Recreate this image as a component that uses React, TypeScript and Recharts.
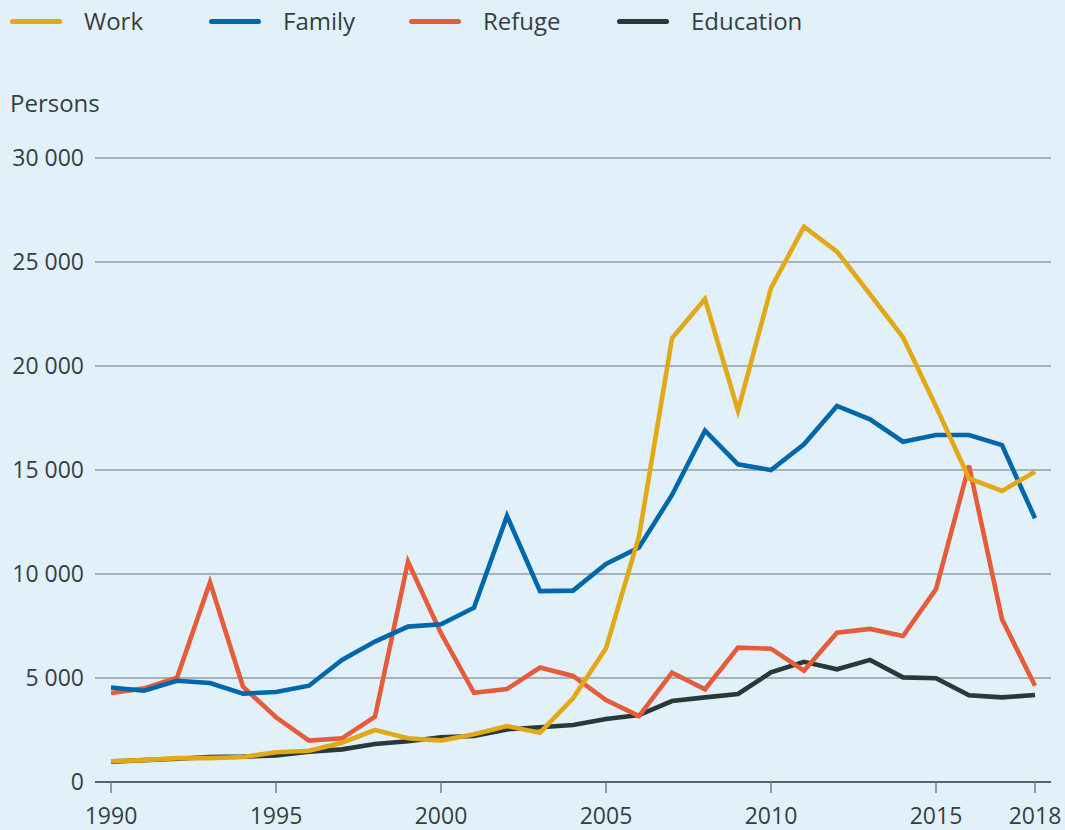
import { LineChart, Line, XAxis, YAxis, CartesianGrid } from "recharts";

const years = [
  1990, 1991, 1992, 1993, 1994, 1995, 1996, 1997, 1998, 1999,
  2000, 2001, 2002, 2003, 2004, 2005, 2006, 2007, 2008, 2009,
  2010, 2011, 2012, 2013, 2014, 2015, 2016, 2017, 2018,
];

const work = [
  1000, 1050, 1150, 1150, 1200, 1430, 1500, 1890, 2500, 2100,
  1990, 2300, 2690, 2370, 4020, 6430, 11800, 21330, 23220, 17850,
  23740, 26700, 25500, 23450, 21380, 18050, 14600, 13990, 14920,
];

const family = [
  4540, 4390, 4870, 4760, 4250, 4330, 4630, 5870, 6750, 7470,
  7580, 8380, 12790, 9180, 9200, 10480, 11270, 13800, 16890, 15270,
  15000, 16240, 18080, 17440, 16360, 16680, 16680, 16200, 12680,
];

const refuge = [
  4280, 4500, 5010, 9600, 4580, 3110, 1990, 2100, 3140, 10590,
  7150, 4290, 4470, 5500, 5100, 3940, 3170, 5260, 4460, 6460,
  6410, 5350, 7180, 7360, 7020, 9270, 15210, 7820, 4630,
];

const education = [
  980, 1050, 1120, 1200, 1220, 1280, 1460, 1570, 1830, 1960,
  2150, 2210, 2530, 2630, 2740, 3030, 3220, 3890, 4070, 4230,
  5270, 5780, 5420, 5870, 5030, 4990, 4170, 4070, 4180,
];

const xTicks = [1990, 1995, 2000, 2005, 2010, 2015, 2018];
const yTicks = [0, 5000, 10000, 15000, 20000, 25000, 30000];

const seriesNames = ["Work", "Family", "Refuge", "Education"];
const seriesKeys = ["work", "family", "refuge", "education"];
const colors = ["#e1a817", "#0068aa", "#e65b39", "#29393a"];

const data = years.map((year, i) => ({
  year,
  work: work[i],
  family: family[i],
  refuge: refuge[i],
  education: education[i],
}));

const TEXT = "#333f42";
const FONT = "'Open Sans', sans-serif";
const legendLeft = [10, 209, 409, 617];
// draw order: bottom to top
const drawOrder = [3, 2, 1, 0];

const fmt = (v: number) => String(v).replace(/\B(?=(\d{3})+(?!\d))/g, " ");

export default function App() {
  return (
    <div
      style={{
        position: "absolute",
        left: 0,
        top: 0,
        width: 1065,
        height: 830,
        background: "#e2f1f9",
        fontFamily: FONT,
        color: TEXT,
        overflow: "hidden",
      }}
    >
      {/* legend */}
      {seriesNames.map((name, i) => (
        <div
          key={name}
          style={{ position: "absolute", left: legendLeft[i], top: 5, height: 32, display: "flex", alignItems: "center" }}
        >
          <div style={{ width: 52, height: 5, borderRadius: 3, background: colors[i], marginRight: 22 }} />
          <span style={{ fontSize: 24, lineHeight: "32px" }}>{name}</span>
        </div>
      ))}

      <div style={{ position: "absolute", left: 10, top: 91, fontSize: 24, lineHeight: "24px" }}>Persons</div>

      <LineChart
        width={1065}
        height={830}
        data={data}
        margin={{ top: 158, right: 14, bottom: 0, left: 10 }}
        style={{ position: "absolute", left: 0, top: 0 }}
      >
        <CartesianGrid vertical={false} stroke="#67777e" strokeWidth={1.2} />
        <XAxis
          dataKey="year"
          type="number"
          domain={[1990, 2018]}
          ticks={xTicks}
          padding={{ left: 16, right: 16 }}
          height={48}
          tickSize={11}
          tickMargin={15}
          axisLine={{ stroke: "#3d4a4e", strokeWidth: 1.5 }}
          tickLine={{ stroke: "#6f7f86", strokeWidth: 1.5 }}
          tick={{ fontSize: 23, fill: TEXT, fontFamily: FONT }}
          interval={0}
        />
        <YAxis
          type="number"
          domain={[0, 30000]}
          ticks={yTicks}
          width={85}
          axisLine={false}
          tickLine={false}
          tickSize={0}
          tickMargin={11}
          tickFormatter={fmt}
          tick={{ fontSize: 23, fill: TEXT, fontFamily: FONT }}
          interval={0}
        />
        {drawOrder.map((i) => (
          <Line
            key={seriesKeys[i]}
            type="linear"
            dataKey={seriesKeys[i]}
            name={seriesNames[i]}
            stroke={colors[i]}
            strokeWidth={4.6}
            dot={false}
            activeDot={false}
            isAnimationActive={false}
          />
        ))}
      </LineChart>
    </div>
  );
}
